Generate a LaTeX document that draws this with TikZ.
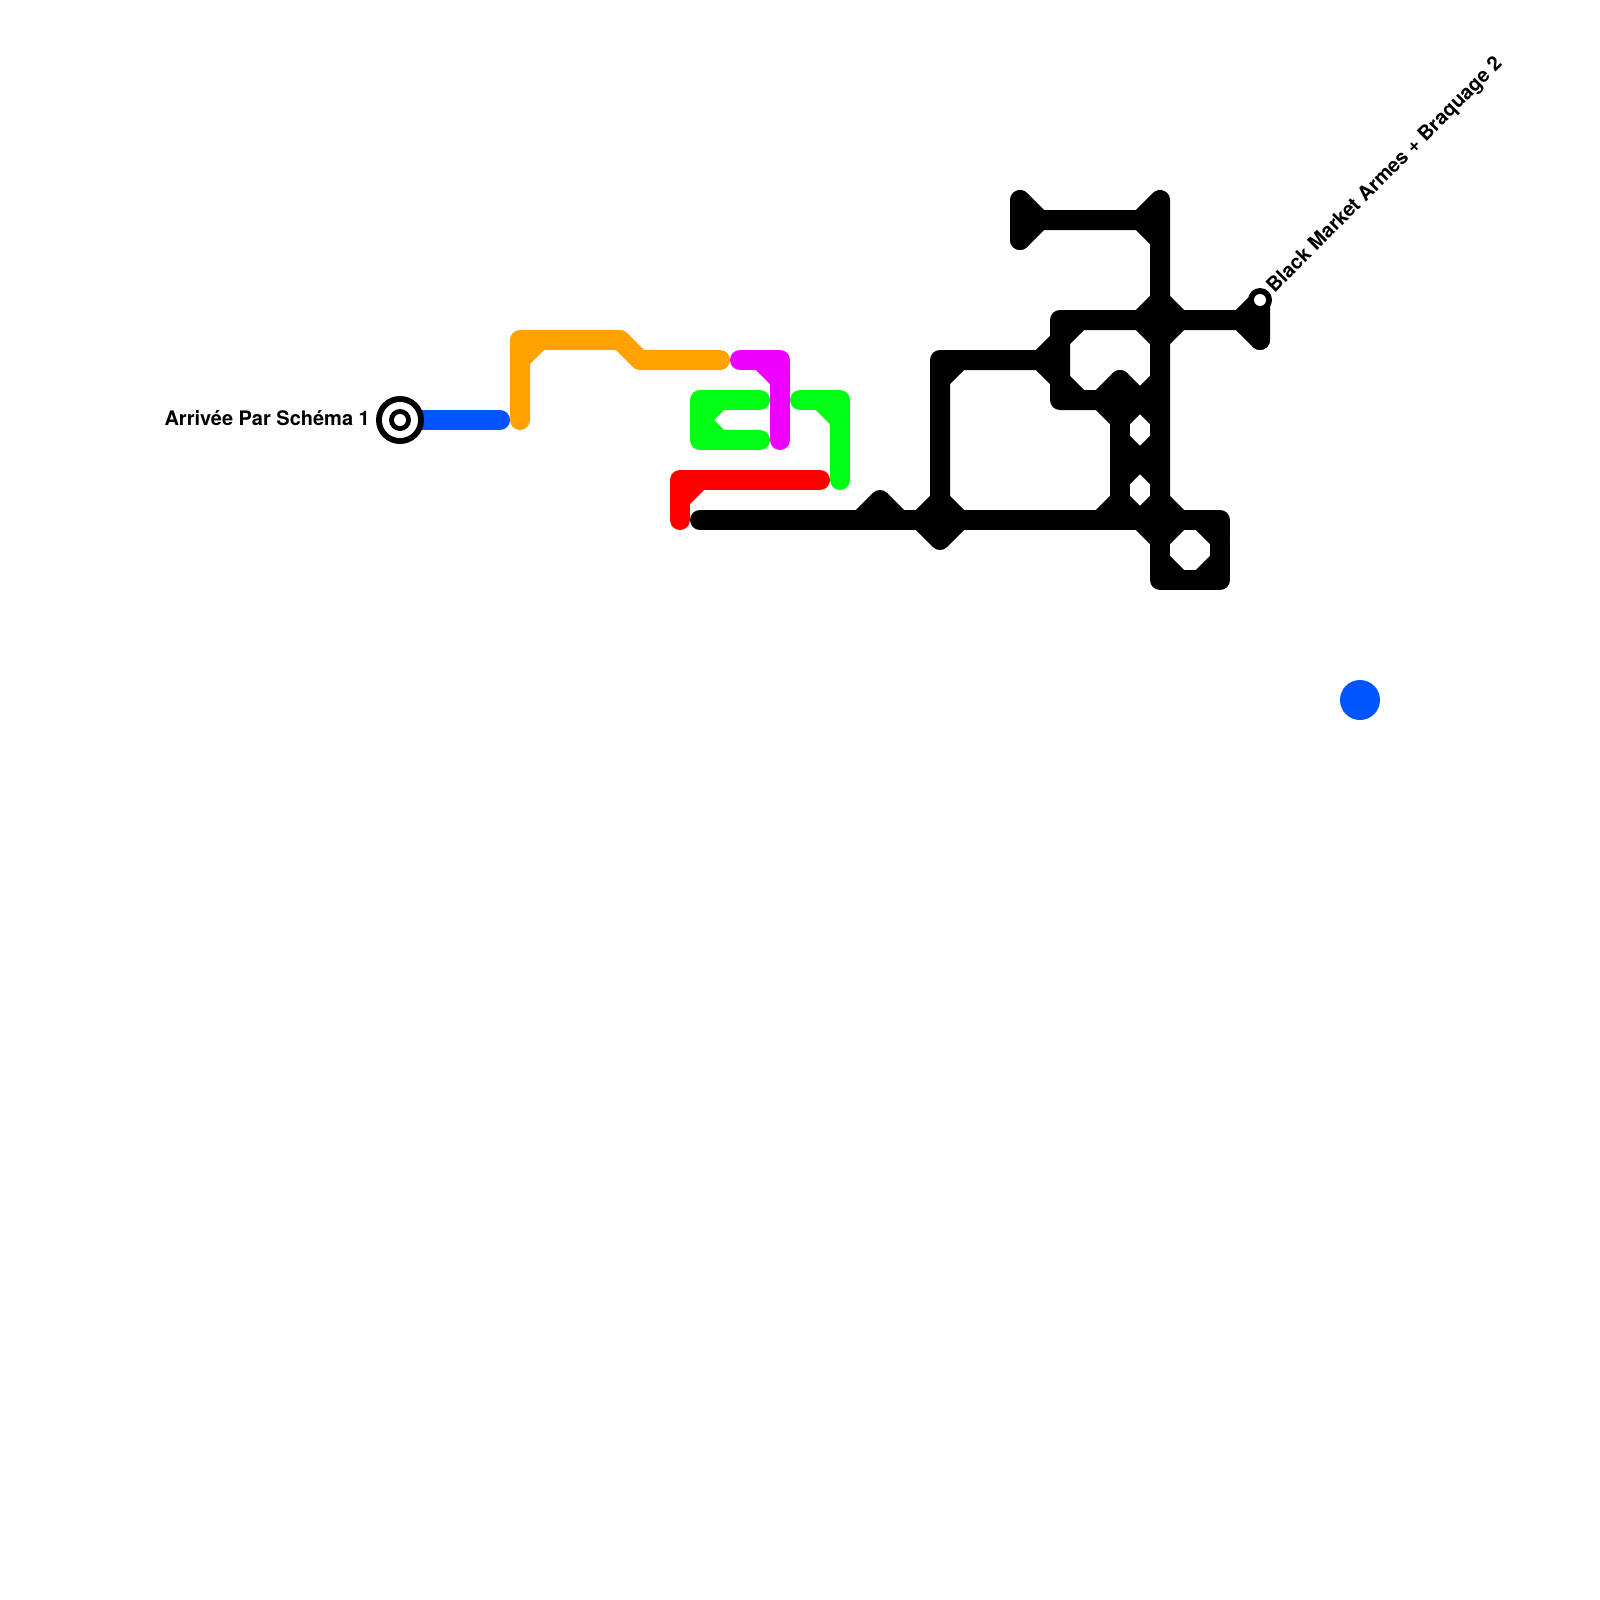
\documentclass[tikz,border=0pt]{standalone}
\usepackage{fontspec}
\setmainfont{TeX Gyre Heros}
\definecolor{lblue}{HTML}{0055FF}
\definecolor{lorange}{HTML}{FFA200}
\definecolor{lmagenta}{HTML}{EE00FF}
\definecolor{lgreen}{HTML}{00FF15}
\definecolor{lred}{HTML}{FF0000}
\tikzset{
  trk/.style={line width=20pt,line cap=round,line join=round},
  lbl/.style={font=\bfseries\fontsize{20pt}{24pt}\selectfont,inner sep=0pt,text=black},
  disc/.style={circle,inner sep=0pt,minimum size=#1}
}
\begin{document}
\begin{tikzpicture}[x=1pt,y=-1pt]
\useasboundingbox (0,0) rectangle (1600,1600);
\fill[white] (0,0) rectangle (1600,1600);
% station positions
\coordinate (start) at (400,420);
\coordinate (stop) at (1260,300);
% coloured lines
\draw[trk,lblue] (start) -- (500,420);
\draw[trk,lorange] (520,420) -- (520,340) -- (620,340) -- (640,360) -- (720,360);
\draw[trk,lorange] (520,360) -- (540,340);
\draw[trk,lmagenta] (740,360) -- (780,360) -- (780,440);
\draw[trk,lmagenta] (760,360) -- (780,380);
\draw[trk,lgreen] (760,400) -- (700,400) -- (700,440) -- (760,440);
\draw[trk,lgreen] (720,400) -- (700,420) -- (720,440);
\draw[trk,lgreen] (800,400) -- (840,400) -- (840,480);
\draw[trk,lgreen] (820,400) -- (840,420);
\draw[trk,lred] (820,480) -- (680,480) -- (680,520);
\draw[trk,lred] (700,480) -- (680,500);
% black lines
\draw[trk,black] (1020,240) -- (1020,200) -- (1040,220) -- (1140,220) -- (1160,200) -- (1160,520);
\draw[trk,black] (1020,240) -- (1040,220);
\draw[trk,black] (1140,220) -- (1160,240);
\draw[trk,black] (1260,340) -- (1260,300) -- (1240,320) -- (1060,320) -- (1060,400) -- (1100,400) -- (1120,380) -- (1160,420);
\draw[trk,black] (1240,320) -- (1260,340);
\draw[trk,black] (1060,340) -- (1080,320);
\draw[trk,black] (1060,380) -- (1080,400);
\draw[trk,black] (1140,320) -- (1160,300) -- (1180,320) -- (1160,340) -- cycle;
\draw[trk,black] (940,520) -- (940,360) -- (1040,360) -- (1060,340);
\draw[trk,black] (1040,360) -- (1060,380);
\draw[trk,black] (940,380) -- (960,360);
\draw[trk,black] (700,520) -- (1220,520) -- (1220,580) -- (1160,580) -- (1160,520);
\draw[trk,black] (860,520) -- (880,500) -- (900,520);
\draw[trk,black] (920,520) -- (940,500) -- (960,520) -- (940,540) -- cycle;
\draw[trk,black] (1120,380) -- (1120,520);
\draw[trk,black] (1100,400) -- (1120,420) -- (1140,400) -- (1160,380);
\draw[trk,black] (1120,440) -- (1140,460) -- (1160,440);
\draw[trk,black] (1120,480) -- (1140,460) -- (1160,480);
\draw[trk,black] (1100,520) -- (1120,500) -- (1140,520) -- (1160,500) -- (1180,520);
\draw[trk,black] (1140,520) -- (1160,540) -- (1180,520);
\draw[trk,black] (1200,520) -- (1220,540);
\draw[trk,black] (1220,560) -- (1200,580);
\draw[trk,black] (1160,560) -- (1180,580);
% stations
\node[disc=48pt,fill=black] (s1) at (start) {};
\node[disc=36pt,fill=white] (s2) at (start) {};
\node[disc=22pt,fill=black] (s3) at (start) {};
\node[disc=12pt,fill=white] (s4) at (start) {};
\node[disc=24pt,fill=black] (e1) at (stop) {};
\node[disc=12pt,fill=white] (e2) at (stop) {};
\node[disc=40pt,fill=lblue] (dot) at (1360,700) {};
% labels
\node[lbl,anchor=base east] (l1) at (370,425) {Arrivée Par Schéma 1};
\node[lbl,anchor=base west,rotate=45] (l2) at (1274.5,293.5) {Black Market Armes + Braquage 2};
\end{tikzpicture}
\end{document}
